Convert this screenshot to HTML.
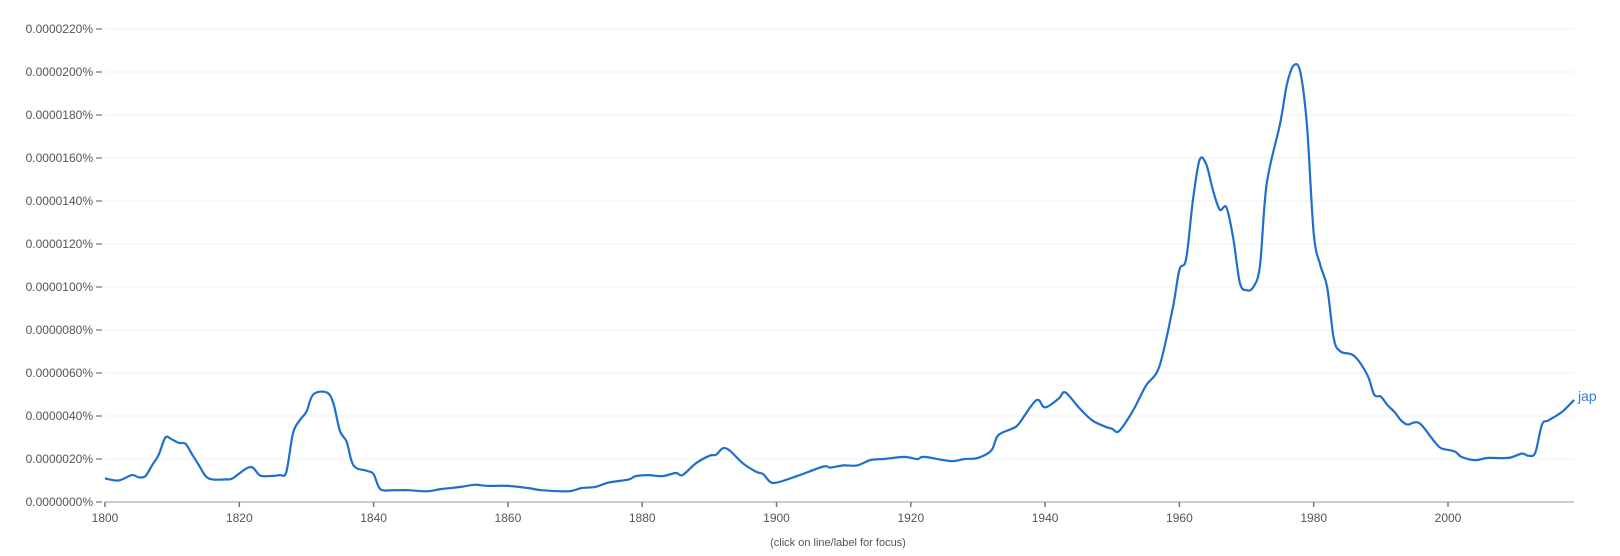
<!DOCTYPE html>
<html><head><meta charset="utf-8"><style>
html,body{margin:0;padding:0;background:#fff;}
svg{display:block;font-family:"Liberation Sans",Arial,sans-serif;}
</style></head><body>
<svg id="s" width="1620" height="556" viewBox="0 0 1620 556" xmlns="http://www.w3.org/2000/svg"></svg>
<script>
const s=document.getElementById('s');
const NS='http://www.w3.org/2000/svg';
function el(t,a,txt){const e=document.createElementNS(NS,t);for(const k in a)e.setAttribute(k,a[k]);if(txt!==undefined)e.textContent=txt;s.appendChild(e);return e;}
const X=y=>105+(y-1800)*6.715, Y=u=>502-21.5*u;
for(let k=0;k<=11;k++){
  const y=Y(2*k);
  if(k>0) el('line',{x1:105,x2:1574,y1:y,y2:y,stroke:'#f0f0f0','stroke-width':1});
  const v=(2*k*10).toString().padStart(3,'0');
  el('text',{x:93,y:y+4,'text-anchor':'end','font-size':12,fill:'#555'},'0.0000'+v+'%');
  el('line',{x1:96,x2:102,y1:y,y2:y,stroke:'#555','stroke-width':1});
}
el('line',{x1:105,x2:1574,y1:502,y2:502,stroke:'#999','stroke-width':1});
for(let yr=1800;yr<=2000;yr+=20){
  const x=X(yr);
  el('line',{x1:x,x2:x,y1:502,y2:507,stroke:'#777','stroke-width':1.5});
  el('text',{x:x,y:522,'text-anchor':'middle','font-size':12,fill:'#555'},yr);
}
el('text',{x:838,y:546,'text-anchor':'middle','font-size':11,fill:'#555'},'(click on line/label for focus)');
const d=[[1800,1.1],[1802,1.0],[1804,1.25],[1805,1.15],[1806,1.2],[1807,1.7],[1808,2.2],[1809,3.0],[1810,2.9],[1811,2.75],[1812,2.7],[1813,2.2],[1814,1.7],[1815,1.2],[1816,1.05],[1818,1.05],[1819,1.1],[1821,1.55],[1822,1.6],[1823,1.25],[1824,1.2],[1826,1.25],[1827,1.4],[1828,3.2],[1829,3.8],[1830,4.2],[1831,5.0],[1833,5.1],[1834,4.6],[1835,3.3],[1836,2.8],[1837,1.7],[1839,1.45],[1840,1.3],[1841,0.6],[1843,0.55],[1845,0.55],[1848,0.5],[1850,0.6],[1853,0.7],[1855,0.8],[1857,0.75],[1860,0.75],[1863,0.65],[1865,0.55],[1869,0.5],[1871,0.65],[1873,0.7],[1875,0.9],[1878,1.05],[1879,1.2],[1881,1.25],[1883,1.2],[1885,1.35],[1886,1.25],[1888,1.8],[1890,2.15],[1891,2.2],[1892,2.5],[1893,2.4],[1895,1.8],[1897,1.4],[1898,1.3],[1899,0.95],[1900,0.9],[1903,1.2],[1907,1.65],[1908,1.6],[1910,1.7],[1912,1.7],[1914,1.95],[1916,2.0],[1919,2.1],[1921,2.0],[1922,2.1],[1926,1.9],[1928,2.0],[1930,2.05],[1932,2.4],[1933,3.1],[1935,3.4],[1936,3.6],[1938,4.5],[1939,4.75],[1940,4.4],[1942,4.8],[1943,5.1],[1945,4.4],[1947,3.8],[1949,3.5],[1950,3.4],[1951,3.3],[1953,4.2],[1955,5.4],[1957,6.3],[1959,9.0],[1960,10.8],[1961,11.3],[1962,14.0],[1963,15.9],[1964,15.7],[1965,14.5],[1966,13.6],[1967,13.7],[1968,12.3],[1969,10.2],[1970,9.85],[1971,10.0],[1972,11.0],[1973,14.8],[1975,17.6],[1976,19.4],[1977,20.3],[1978,20.0],[1979,17.5],[1980,12.5],[1981,11.0],[1982,10.0],[1983,7.6],[1984,7.0],[1986,6.8],[1988,5.9],[1989,5.0],[1990,4.9],[1991,4.5],[1992,4.2],[1993,3.8],[1994,3.6],[1995,3.7],[1996,3.6],[1998,2.8],[1999,2.5],[2001,2.35],[2002,2.1],[2004,1.95],[2006,2.05],[2009,2.05],[2011,2.25],[2012,2.15],[2013,2.3],[2014,3.6],[2015,3.8],[2017,4.2],[2018.8,4.75]];
const p=d.map(a=>[X(a[0]),Y(a[1])]);
let path='M'+p[0][0].toFixed(1)+','+p[0][1].toFixed(1);
for(let i=0;i<p.length-1;i++){
  const p0=p[i-1]||p[i],p1=p[i],p2=p[i+1],p3=p[i+2]||p2;
  const c1=[p1[0]+(p2[0]-p0[0])/6,p1[1]+(p2[1]-p0[1])/6];
  const c2=[p2[0]-(p3[0]-p1[0])/6,p2[1]-(p3[1]-p1[1])/6];
  path+=`C${c1[0].toFixed(1)},${c1[1].toFixed(1)} ${c2[0].toFixed(1)},${c2[1].toFixed(1)} ${p2[0].toFixed(1)},${p2[1].toFixed(1)}`;
}
el('path',{d:path,fill:'none',stroke:'#1f6fcc','stroke-width':2.2,'stroke-linejoin':'round'});
el('text',{x:1578,y:401,'font-size':14,fill:'#3a7ad0'},'jap');
</script>
</body></html>
